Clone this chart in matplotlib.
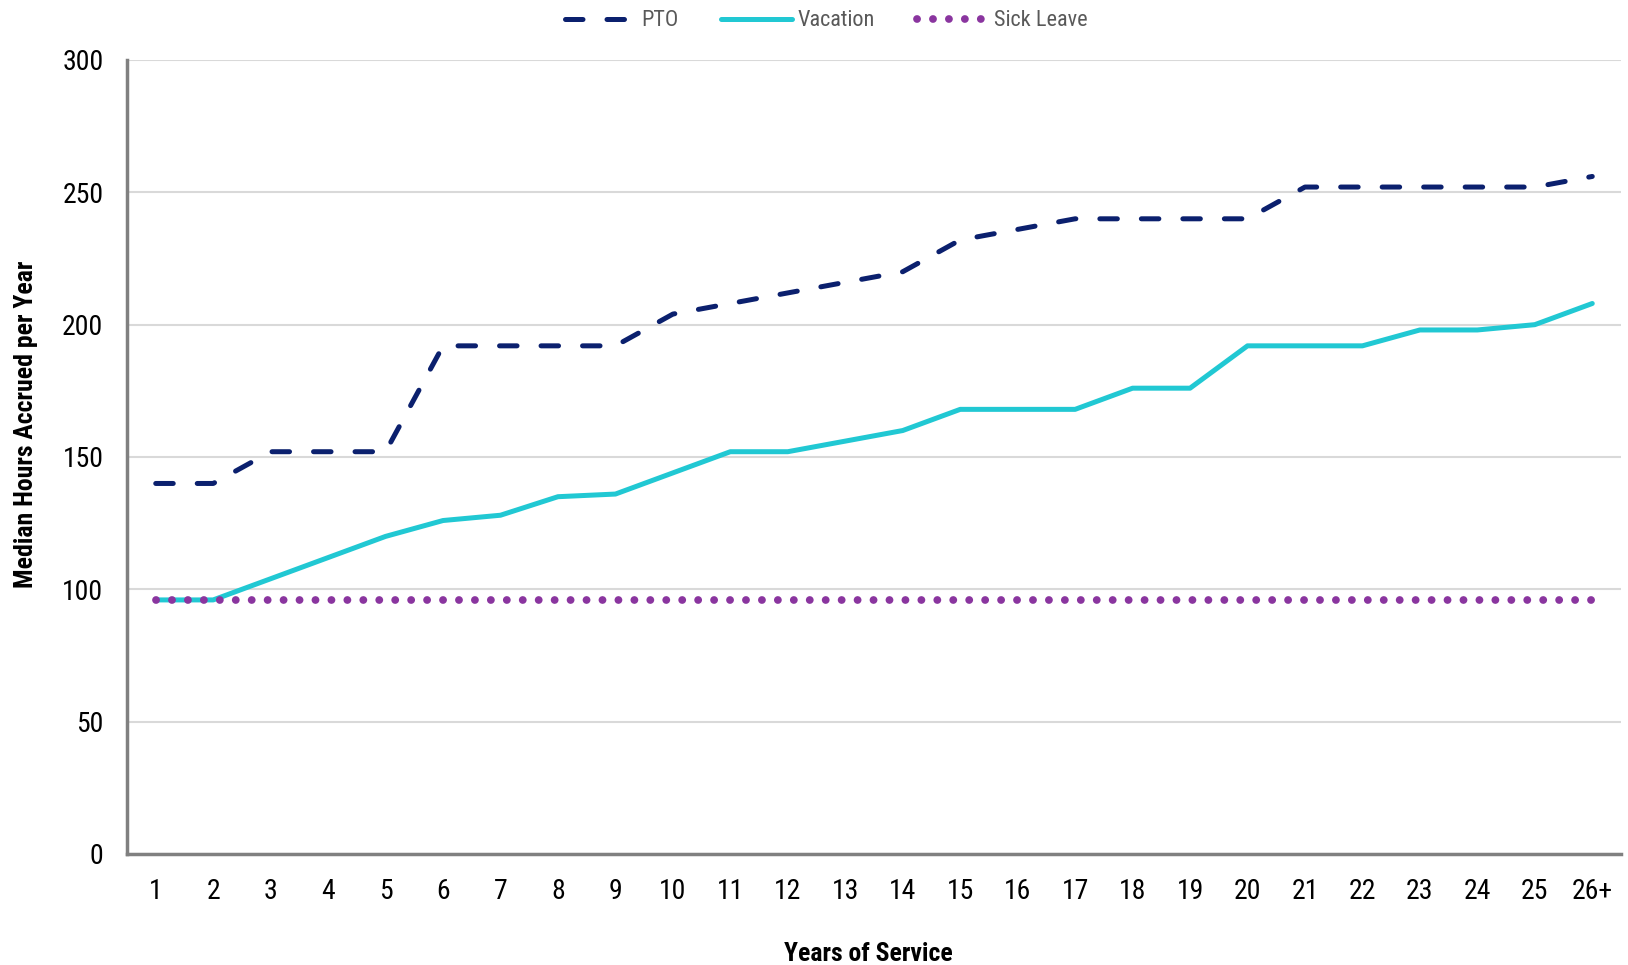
import matplotlib
matplotlib.use("Agg")
import matplotlib.pyplot as plt
from matplotlib import font_manager

names = {f.name for f in font_manager.fontManager.ttflist}
fam = [n for n in ["Roboto Condensed", "PT Sans Narrow", "Archivo Narrow", "Liberation Sans"] if n in names][:1]
plt.rcParams['font.family'] = fam + ["DejaVu Sans"]

categories = ["1", "2", "3", "4", "5", "6", "7", "8", "9", "10", "11", "12", "13",
              "14", "15", "16", "17", "18", "19", "20", "21", "22", "23", "24", "25", "26+"]
pto = [140, 140, 152, 152, 152, 192, 192, 192, 192, 204, 208, 212, 216, 220, 232, 236,
       240, 240, 240, 240, 252, 252, 252, 252, 252, 256]
vacation = [96, 96, 104, 112, 120, 126, 128, 135, 136, 144, 152, 152, 156, 160, 168, 168,
            168, 176, 176, 192, 192, 192, 198, 198, 200, 208]
sick = [96] * 26
yticks = [0, 50, 100, 150, 200, 250, 300]

fig = plt.figure(figsize=(16.28, 9.65), dpi=100)
ax = fig.add_axes([127/1628, 1 - 854/965, (1621-127)/1628, (854-60)/965])

x = list(range(1, len(categories) + 1))
ax.plot(x, vacation, color="#21c8d3", lw=3.6, solid_capstyle="round", solid_joinstyle="round",
        label="Vacation", zorder=3)
ax.plot(x, sick, color="#8a359f", lw=5.6, dashes=(0.01, 2.04), dash_capstyle="round",
        label="Sick Leave", zorder=4)
ax.plot(x, pto, color="#0b206e", lw=3.6, dashes=(3.5, 4.8), dash_capstyle="round",
        label="PTO", zorder=5)

ax.set_xlim(0.5, 26.5)
ax.set_ylim(0, 300)
ax.set_xticks(x)
ax.set_xticklabels(categories)
ax.set_yticks(yticks)
ax.tick_params(axis="both", length=0, labelsize=20, colors="#000000")
ax.tick_params(axis="x", pad=17)
ax.tick_params(axis="y", pad=17)
ax.grid(axis="y", color="#d9d9d9", lw=1.5)
ax.set_axisbelow(True)
for s in ["top", "right"]:
    ax.spines[s].set_visible(False)
for s in ["left", "bottom"]:
    ax.spines[s].set_color("#808080")
    ax.spines[s].set_linewidth(2.5)

ax.set_xlabel("Years of Service", fontsize=18.5, fontweight="bold", va="center")
ax.xaxis.set_label_coords((868 - 127) / 1494, (854 - 954) / 794)
ax.set_ylabel("Median Hours Accrued per Year", fontsize=18.5, fontweight="bold", va="center")
ax.yaxis.set_label_coords((26 - 127) / 1494, (854 - 424) / 794)

h, l = ax.get_legend_handles_labels()
order = [2, 0, 1]
leg = fig.legend([h[i] for i in order], [l[i] for i in order], loc="center",
                 bbox_to_anchor=(826/1628, 1 - 21/965), ncol=3, frameon=False, fontsize=16,
                 handlelength=3.2, columnspacing=1.9, handletextpad=0.25)
for t in leg.get_texts():
    t.set_color("#595959")

fig.savefig("out.png", dpi=100)
